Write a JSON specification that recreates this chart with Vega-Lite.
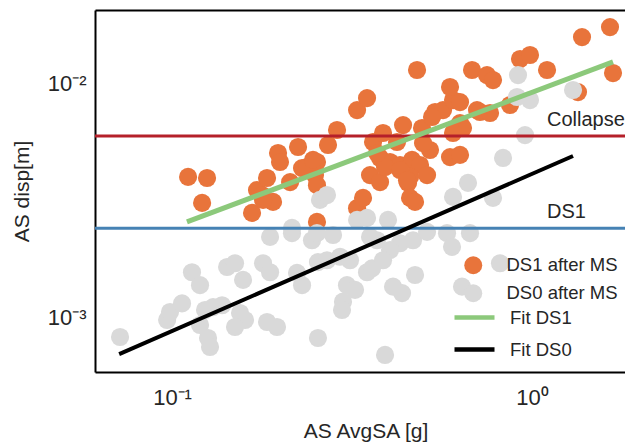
{
"$schema": "https://vega.github.io/schema/vega-lite/v6.json",
"width": 530, "height": 362,
"autosize": "none",
"padding": {"left": 95, "top": 10, "right": 0, "bottom": 71},
"config": {
  "view": {"stroke": null},
  "font": "Liberation Sans",
  "axis": {"grid": false, "ticks": false, "tickSize": 0, "domainColor": "#000000", "domainWidth": 2, "labelColor": "#262626", "titleColor": "#262626", "labelFont": "Liberation Sans", "titleFont": "Liberation Sans", "titleFontWeight": "normal", "labelFontSize": 22, "titleFontSize": 21, "labelFlush": false, "labelOverlap": false},
  "legend": {"labelFont": "Liberation Sans", "labelFontSize": 18.5, "labelColor": "#262626", "padding": 0, "title": null, "orient": "none", "symbolOpacity": 1}
},
"datasets": {
  "pts": [
    {"sa":0.1108,"disp":0.00387,"series":"DS1 after MS"},{"sa":0.1251,"disp":0.00383,"series":"DS1 after MS"},{"sa":0.1212,"disp":0.00300,"series":"DS1 after MS"},{"sa":0.1668,"disp":0.00272,"series":"DS1 after MS"},{"sa":0.1722,"disp":0.00340,"series":"DS1 after MS"},{"sa":0.1778,"disp":0.00324,"series":"DS1 after MS"},{"sa":0.1836,"disp":0.00383,"series":"DS1 after MS"},{"sa":0.1908,"disp":0.00303,"series":"DS1 after MS"},{"sa":0.1790,"disp":0.00309,"series":"DS1 after MS"},{"sa":0.1970,"disp":0.00489,"series":"DS1 after MS"},
    {"sa":0.1995,"disp":0.00448,"series":"DS1 after MS"},{"sa":0.2128,"disp":0.00368,"series":"DS1 after MS"},{"sa":0.2239,"disp":0.00519,"series":"DS1 after MS"},{"sa":0.2297,"disp":0.00422,"series":"DS1 after MS"},{"sa":0.2495,"disp":0.00394,"series":"DS1 after MS"},{"sa":0.2527,"disp":0.00448,"series":"DS1 after MS"},{"sa":0.2527,"disp":0.00357,"series":"DS1 after MS"},{"sa":0.2527,"disp":0.00249,"series":"DS1 after MS"},{"sa":0.2712,"disp":0.00529,"series":"DS1 after MS"},{"sa":0.2873,"disp":0.00613,"series":"DS1 after MS"},
    {"sa":0.3266,"disp":0.00745,"series":"DS1 after MS"},{"sa":0.3481,"disp":0.00838,"series":"DS1 after MS"},{"sa":0.3266,"disp":0.00285,"series":"DS1 after MS"},{"sa":0.3393,"disp":0.00315,"series":"DS1 after MS"},{"sa":0.3617,"disp":0.00545,"series":"DS1 after MS"},{"sa":0.3856,"disp":0.00595,"series":"DS1 after MS"},{"sa":0.3783,"disp":0.00466,"series":"DS1 after MS"},{"sa":0.4033,"disp":0.00448,"series":"DS1 after MS"},{"sa":0.3548,"disp":0.00394,"series":"DS1 after MS"},{"sa":0.3783,"disp":0.00368,"series":"DS1 after MS"},
    {"sa":0.4383,"disp":0.00643,"series":"DS1 after MS"},{"sa":0.4217,"disp":0.00545,"series":"DS1 after MS"},{"sa":0.4299,"disp":0.00435,"series":"DS1 after MS"},{"sa":0.4642,"disp":0.00457,"series":"DS1 after MS"},{"sa":0.4886,"disp":0.00435,"series":"DS1 after MS"},{"sa":0.4583,"disp":0.00387,"series":"DS1 after MS"},{"sa":0.4525,"disp":0.00365,"series":"DS1 after MS"},{"sa":0.5110,"disp":0.00394,"series":"DS1 after MS"},{"sa":0.5208,"disp":0.00504,"series":"DS1 after MS"},{"sa":0.4949,"disp":0.00625,"series":"DS1 after MS"},
    {"sa":0.4981,"disp":0.00539,"series":"DS1 after MS"},{"sa":0.4583,"disp":0.00315,"series":"DS1 after MS"},{"sa":0.4732,"disp":0.00303,"series":"DS1 after MS"},{"sa":0.5378,"disp":0.00731,"series":"DS1 after MS"},{"sa":0.5660,"disp":0.00745,"series":"DS1 after MS"},{"sa":0.6034,"disp":0.00822,"series":"DS1 after MS"},{"sa":0.6310,"disp":0.00806,"series":"DS1 after MS"},{"sa":0.6310,"disp":0.00656,"series":"DS1 after MS"},{"sa":0.6432,"disp":0.00625,"series":"DS1 after MS"},{"sa":0.5919,"disp":0.00470,"series":"DS1 after MS"},
    {"sa":0.6310,"disp":0.00480,"series":"DS1 after MS"},{"sa":0.7034,"disp":0.00745,"series":"DS1 after MS"},{"sa":0.4793,"disp":0.01103,"series":"DS1 after MS"},{"sa":0.5919,"disp":0.00934,"series":"DS1 after MS"},{"sa":0.6813,"disp":0.01103,"series":"DS1 after MS"},{"sa":0.7499,"disp":0.01050,"series":"DS1 after MS"},{"sa":0.7793,"disp":0.01000,"series":"DS1 after MS"},{"sa":0.7170,"disp":0.00731,"series":"DS1 after MS"},{"sa":0.7645,"disp":0.00724,"series":"DS1 after MS"},{"sa":0.8688,"disp":0.00783,"series":"DS1 after MS"},
    {"sa":0.9261,"disp":0.01229,"series":"DS1 after MS"},{"sa":0.9873,"disp":0.01278,"series":"DS1 after MS"},{"sa":1.101,"disp":0.01103,"series":"DS1 after MS"},{"sa":1.377,"disp":0.01524,"series":"DS1 after MS"},{"sa":1.647,"disp":0.01680,"series":"DS1 after MS"},{"sa":1.679,"disp":0.01071,"series":"DS1 after MS"},{"sa":1.342,"disp":0.00889,"series":"DS1 after MS"},{"sa":0.5275,"disp":0.00696,"series":"DS1 after MS"},{"sa":0.6034,"disp":0.00595,"series":"DS1 after MS"},{"sa":0.3906,"disp":0.00426,"series":"DS1 after MS"},
    {"sa":0.3711,"disp":0.00489,"series":"DS1 after MS"},{"sa":0.2371,"disp":0.00426,"series":"DS1 after MS"},{"sa":0.2464,"disp":0.00457,"series":"DS1 after MS"},{"sa":0.4299,"disp":0.00414,"series":"DS1 after MS"},{"sa":0.4496,"disp":0.00375,"series":"DS1 after MS"},
    {"sa":0.0717,"disp":0.000806,"series":"DS0 after MS"},{"sa":0.0969,"disp":0.000952,"series":"DS0 after MS"},{"sa":0.0987,"disp":0.00103,"series":"DS0 after MS"},{"sa":0.1066,"disp":0.00112,"series":"DS0 after MS"},{"sa":0.1136,"disp":0.00152,"series":"DS0 after MS"},{"sa":0.1196,"disp":0.00134,"series":"DS0 after MS"},{"sa":0.1196,"disp":0.000907,"series":"DS0 after MS"},{"sa":0.1235,"disp":0.00105,"series":"DS0 after MS"},{"sa":0.1300,"disp":0.00108,"series":"DS0 after MS"},{"sa":0.1377,"disp":0.00110,"series":"DS0 after MS"},
    {"sa":0.1259,"disp":0.000798,"series":"DS0 after MS"},{"sa":0.1275,"disp":0.000731,"series":"DS0 after MS"},{"sa":0.1422,"disp":0.00160,"series":"DS0 after MS"},{"sa":0.1496,"disp":0.00166,"series":"DS0 after MS"},{"sa":0.1575,"disp":0.00141,"series":"DS0 after MS"},{"sa":0.1545,"disp":0.00102,"series":"DS0 after MS"},{"sa":0.1595,"disp":0.000952,"series":"DS0 after MS"},{"sa":0.1496,"disp":0.000889,"series":"DS0 after MS"},{"sa":0.1790,"disp":0.00166,"series":"DS0 after MS"},{"sa":0.1872,"disp":0.00152,"series":"DS0 after MS"},
    {"sa":0.1872,"disp":0.00215,"series":"DS0 after MS"},{"sa":0.1836,"disp":0.000934,"series":"DS0 after MS"},{"sa":0.1957,"disp":0.000889,"series":"DS0 after MS"},{"sa":0.2154,"disp":0.00223,"series":"DS0 after MS"},{"sa":0.2224,"disp":0.00151,"series":"DS0 after MS"},{"sa":0.2297,"disp":0.00134,"series":"DS0 after MS"},{"sa":0.2448,"disp":0.00208,"series":"DS0 after MS"},{"sa":0.2527,"disp":0.00223,"series":"DS0 after MS"},{"sa":0.2543,"disp":0.00168,"series":"DS0 after MS"},{"sa":0.2543,"disp":0.000798,"series":"DS0 after MS"},
    {"sa":0.2801,"disp":0.00219,"series":"DS0 after MS"},{"sa":0.3266,"disp":0.00254,"series":"DS0 after MS"},{"sa":0.3481,"disp":0.00259,"series":"DS0 after MS"},{"sa":0.3981,"disp":0.00254,"series":"DS0 after MS"},{"sa":0.3548,"disp":0.00215,"series":"DS0 after MS"},{"sa":0.3711,"disp":0.00208,"series":"DS0 after MS"},{"sa":0.4299,"disp":0.00202,"series":"DS0 after MS"},{"sa":0.4672,"disp":0.00208,"series":"DS0 after MS"},{"sa":0.4033,"disp":0.00189,"series":"DS0 after MS"},{"sa":0.5110,"disp":0.00226,"series":"DS0 after MS"},
    {"sa":0.5806,"disp":0.00223,"series":"DS0 after MS"},{"sa":0.5995,"disp":0.00195,"series":"DS0 after MS"},{"sa":0.6726,"disp":0.00223,"series":"DS0 after MS"},{"sa":0.2694,"disp":0.00171,"series":"DS0 after MS"},{"sa":0.2929,"disp":0.00177,"series":"DS0 after MS"},{"sa":0.3122,"disp":0.00171,"series":"DS0 after MS"},{"sa":0.3481,"disp":0.00152,"series":"DS0 after MS"},{"sa":0.3594,"disp":0.00158,"series":"DS0 after MS"},{"sa":0.3856,"disp":0.00171,"series":"DS0 after MS"},{"sa":0.4732,"disp":0.00148,"series":"DS0 after MS"},
    {"sa":0.3062,"disp":0.00134,"series":"DS0 after MS"},{"sa":0.3224,"disp":0.00128,"series":"DS0 after MS"},{"sa":0.2985,"disp":0.00114,"series":"DS0 after MS"},{"sa":0.2966,"disp":0.00105,"series":"DS0 after MS"},{"sa":0.4111,"disp":0.00132,"series":"DS0 after MS"},{"sa":0.4355,"disp":0.00124,"series":"DS0 after MS"},{"sa":0.6391,"disp":0.00132,"series":"DS0 after MS"},{"sa":0.8149,"disp":0.00166,"series":"DS0 after MS"},{"sa":0.3906,"disp":0.000676,"series":"DS0 after MS"},{"sa":0.9144,"disp":0.01050,"series":"DS0 after MS"},
    {"sa":0.9086,"disp":0.00847,"series":"DS0 after MS"},{"sa":0.9873,"disp":0.00822,"series":"DS0 after MS"},{"sa":1.300,"disp":0.00907,"series":"DS0 after MS"},{"sa":0.9563,"disp":0.00583,"series":"DS0 after MS"},{"sa":0.8309,"disp":0.00466,"series":"DS0 after MS"},{"sa":0.6641,"disp":0.00365,"series":"DS0 after MS"},{"sa":0.6034,"disp":0.00318,"series":"DS0 after MS"},{"sa":0.7793,"disp":0.00315,"series":"DS0 after MS"},{"sa":0.2576,"disp":0.00309,"series":"DS0 after MS"},{"sa":0.2694,"disp":0.00324,"series":"DS0 after MS"},
    {"sa":0.2154,"disp":0.00235,"series":"DS0 after MS"}
  ],
  "fits": [
    {"sa":0.110,"disp":0.00249,"series":"Fit DS1"},{"sa":1.679,"disp":0.01194,"series":"Fit DS1"},
    {"sa":0.0713,"disp":0.000682,"series":"Fit DS0"},{"sa":1.300,"disp":0.00475,"series":"Fit DS0"}
  ],
  "thresholds": [
    {"level":"Collapse","disp":0.00578},{"level":"DS1","disp":0.00234}
  ],
  "labels": [
    {"text":"Collapse","sa":1.101,"disp":0.00637},{"text":"DS1","sa":1.101,"disp":0.00259}
  ]
},
"resolve": {"axis": {"x": "independent", "y": "independent"}},
"layer": [
  {
    "data": {"name": "pts"},
    "mark": {"type": "point", "filled": true, "size": 330, "opacity": 1, "strokeWidth": 0, "shape": "circle"},
    "encoding": {
      "x": {"field": "sa", "type": "quantitative", "title": "AS AvgSA [g]", "scale": {"type": "log", "domain": [0.06109, 1.8128], "nice": false},
            "axis": {"orient": "bottom", "values": [0.1, 1], "labelExpr": "datum.value < 0.5 ? '10⁻¹' : '10⁰'", "labelPadding": 15, "labelAlign": "center", "titleX": 270.5, "titleY": 65, "titleAlign": "center", "titleBaseline": "alphabetic"}},
      "y": {"field": "disp", "type": "quantitative", "title": "AS disp[m]", "scale": {"type": "log", "domain": [0.000572, 0.019866], "nice": false},
            "axis": {"orient": "left", "values": [0.001, 0.01], "labelExpr": "datum.value < 0.005 ? '10⁻³' : '10⁻²'", "labelPadding": 9, "labelAlign": "right", "labelBaseline": "middle", "labelOffset": 3, "titleX": -67, "titleY": 181, "titleAngle": -90, "titleAlign": "center", "titleBaseline": "alphabetic"}},
      "fill": {"field": "series", "type": "nominal", "title": null,
        "scale": {"domain": ["DS1 after MS", "DS0 after MS"], "range": ["#e8743b", "#d9d9d9"]},
        "legend": {"legendX": 369, "legendY": 246, "symbolSize": 324, "labelOffset": 24, "symbolType": "circle", "symbolStrokeWidth": 0, "rowPadding": 9}}
    }
  },
  {
    "data": {"name": "thresholds"},
    "mark": {"type": "rule", "strokeWidth": 3},
    "encoding": {
      "y": {"field": "disp", "type": "quantitative", "scale": {"type": "log", "domain": [0.000572, 0.019866], "nice": false}, "axis": null},
      "stroke": {"field": "level", "type": "nominal", "scale": {"domain": ["Collapse", "DS1"], "range": ["#b5202a", "#4682b4"]}, "legend": null}
    }
  },
  {
    "data": {"name": "fits"},
    "transform": [{"filter": "datum.series === 'Fit DS1'"}],
    "mark": {"type": "line", "strokeWidth": 5, "strokeCap": "butt"},
    "encoding": {
      "x": {"field": "sa", "type": "quantitative", "scale": {"type": "log", "domain": [0.06109, 1.8128], "nice": false},
            "axis": {"orient": "top", "labels": false, "ticks": false, "title": null, "domain": true}},
      "y": {"field": "disp", "type": "quantitative", "scale": {"type": "log", "domain": [0.000572, 0.019866], "nice": false}, "axis": null},
      "color": {"field": "series", "type": "nominal", "title": null, "scale": {"domain": ["Fit DS1", "Fit DS0"], "range": ["#8cc97b", "#000000"]},
        "legend": {"legendX": 357, "legendY": 285, "symbolSize": 1600, "labelOffset": 13, "symbolType": "stroke", "symbolStrokeWidth": 4.5, "rowPadding": -13}}
    }
  },
  {
    "data": {"name": "fits"},
    "transform": [{"filter": "datum.series === 'Fit DS0'"}],
    "mark": {"type": "line", "strokeWidth": 4, "strokeCap": "butt"},
    "encoding": {
      "x": {"field": "sa", "type": "quantitative", "scale": {"type": "log", "domain": [0.06109, 1.8128], "nice": false}, "axis": null},
      "y": {"field": "disp", "type": "quantitative", "scale": {"type": "log", "domain": [0.000572, 0.019866], "nice": false}, "axis": null},
      "color": {"field": "series", "type": "nominal", "title": null, "scale": {"domain": ["Fit DS1", "Fit DS0"], "range": ["#8cc97b", "#000000"]}, "legend": null}
    }
  },
  {
    "data": {"name": "labels"},
    "mark": {"type": "text", "align": "left", "baseline": "alphabetic", "fontSize": 20, "font": "Liberation Sans", "color": "#262626"},
    "encoding": {
      "x": {"field": "sa", "type": "quantitative", "scale": {"type": "log", "domain": [0.06109, 1.8128], "nice": false}, "axis": null},
      "y": {"field": "disp", "type": "quantitative", "scale": {"type": "log", "domain": [0.000572, 0.019866], "nice": false}, "axis": null},
      "text": {"field": "text"}
    }
  }
]
}
